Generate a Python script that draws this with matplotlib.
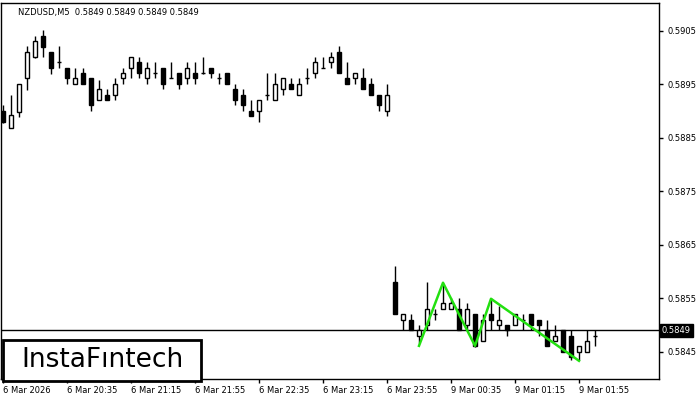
#!/usr/bin/env python3
# -*- coding: utf-8 -*-

import matplotlib
matplotlib.use("Agg")
import matplotlib.pyplot as plt
from matplotlib.patches import Rectangle
from matplotlib.transforms import blended_transform_factory


# NZDUSD M5, bars from 6 Mar 19:55 onwards (weekend gap after index 48)
opens = [
    0.58900, 0.58869, 0.58898, 0.58962, 0.59001, 0.59041, 0.59011, 0.58992, 0.58981, 0.58951,
    0.58971, 0.58962, 0.58921, 0.58930, 0.58930, 0.58962, 0.58981, 0.58992, 0.58962, 0.58971,
    0.58981, 0.58962, 0.58971, 0.58962, 0.58971, 0.58971, 0.58981, 0.58962, 0.58971, 0.58941,
    0.58930, 0.58900, 0.58900, 0.58930, 0.58921, 0.58941, 0.58951, 0.58930, 0.58962, 0.58971,
    0.58981, 0.58992, 0.59011, 0.58962, 0.58962, 0.58962, 0.58951, 0.58930, 0.58900,
    0.58580, 0.58509, 0.58509, 0.58479, 0.58500, 0.58521, 0.58530, 0.58530, 0.58530, 0.58500,
    0.58521, 0.58470, 0.58521, 0.58500, 0.58500, 0.58500, 0.58509, 0.58521, 0.58509, 0.58491,
    0.58470, 0.58491, 0.58479, 0.58449, 0.58449, 0.58479,
]
highs = [
    0.58912, 0.58930, 0.58951, 0.59022, 0.59041, 0.59052, 0.59011, 0.59022, 0.58981, 0.58981,
    0.58981, 0.58962, 0.58958, 0.58941, 0.58962, 0.58981, 0.59001, 0.59001, 0.58992, 0.58992,
    0.58981, 0.58992, 0.58971, 0.58992, 0.58992, 0.59001, 0.58981, 0.58971, 0.58971, 0.58951,
    0.58941, 0.58921, 0.58921, 0.58971, 0.58971, 0.58962, 0.58962, 0.58962, 0.58981, 0.59001,
    0.59001, 0.59011, 0.59022, 0.58992, 0.58971, 0.58981, 0.58962, 0.58930, 0.58951,
    0.58610, 0.58521, 0.58521, 0.58500, 0.58580, 0.58530, 0.58579, 0.58550, 0.58550, 0.58541,
    0.58521, 0.58521, 0.58550, 0.58535, 0.58500, 0.58521, 0.58521, 0.58521, 0.58509, 0.58509,
    0.58500, 0.58491, 0.58491, 0.58461, 0.58491, 0.58491,
]
lows = [
    0.58878, 0.58868, 0.58889, 0.58940, 0.58999, 0.59001, 0.58970, 0.58981, 0.58951, 0.58951,
    0.58951, 0.58900, 0.58921, 0.58921, 0.58921, 0.58951, 0.58962, 0.58962, 0.58951, 0.58962,
    0.58941, 0.58962, 0.58941, 0.58951, 0.58951, 0.58970, 0.58962, 0.58951, 0.58951, 0.58912,
    0.58900, 0.58891, 0.58880, 0.58921, 0.58921, 0.58930, 0.58941, 0.58930, 0.58951, 0.58962,
    0.58980, 0.58981, 0.58971, 0.58951, 0.58951, 0.58941, 0.58930, 0.58900, 0.58891,
    0.58521, 0.58491, 0.58491, 0.58466, 0.58491, 0.58509, 0.58530, 0.58530, 0.58491, 0.58491,
    0.58459, 0.58470, 0.58491, 0.58491, 0.58479, 0.58500, 0.58491, 0.58491, 0.58479, 0.58461,
    0.58470, 0.58449, 0.58434, 0.58434, 0.58449, 0.58461,
]
closes = [
    0.58880, 0.58892, 0.58951, 0.59011, 0.59031, 0.59020, 0.58981, 0.58991, 0.58962, 0.58962,
    0.58951, 0.58912, 0.58941, 0.58921, 0.58951, 0.58971, 0.59001, 0.58971, 0.58981, 0.58970,
    0.58951, 0.58961, 0.58951, 0.58981, 0.58962, 0.58970, 0.58971, 0.58961, 0.58951, 0.58921,
    0.58912, 0.58891, 0.58921, 0.58931, 0.58951, 0.58962, 0.58941, 0.58951, 0.58961, 0.58992,
    0.58980, 0.59001, 0.58971, 0.58951, 0.58971, 0.58941, 0.58930, 0.58912, 0.58930,
    0.58521, 0.58521, 0.58491, 0.58491, 0.58530, 0.58520, 0.58541, 0.58541, 0.58491, 0.58530,
    0.58461, 0.58509, 0.58509, 0.58509, 0.58491, 0.58521, 0.58510, 0.58500, 0.58500, 0.58461,
    0.58479, 0.58449, 0.58440, 0.58461, 0.58470, 0.58480,
]

# triple bottom pattern outline (bar index, price)
pattern_idx = [52, 55, 59, 61, 72]
pattern_px = [0.58461, 0.58579, 0.58461, 0.58549, 0.58433]

last_price = 0.5849
price_ticks = [0.5845, 0.5855, 0.5865, 0.5875, 0.5885, 0.5895, 0.5905]
time_ticks = [0, 8, 16, 24, 32, 40, 48, 56, 64, 72]
time_labels = ["6 Mar 2026", "6 Mar 20:35", "6 Mar 21:15", "6 Mar 21:55", "6 Mar 22:35",
               "6 Mar 23:15", "6 Mar 23:55", "9 Mar 00:35", "9 Mar 01:15", "9 Mar 01:55"]

FS = 6

fig = plt.figure(figsize=(7, 4), dpi=100)
ax = fig.add_axes([1 / 700, 21 / 400, 658 / 700, 376 / 400])

x = list(range(len(opens)))
ax.vlines(x, lows, highs, color="black", lw=1, zorder=2)
for i in x:
    o, c = opens[i], closes[i]
    if abs(c - o) < 0.00003:
        ax.hlines((o + c) / 2, i - 0.3, i + 0.3, color="black", lw=1, zorder=3)
        continue
    fill = "white" if c > o else "black"
    ax.bar(i, abs(c - o), bottom=min(o, c), width=0.6, color=fill,
           edgecolor="black", linewidth=1, zorder=3)

ax.axhline(last_price, color="black", lw=1, zorder=1)
ax.plot(pattern_idx, pattern_px, color="#22e010", lw=1.8, zorder=4)

ax.set_xlim(-0.25, 82)
ax.set_ylim(0.58399, 0.59102)

ax.yaxis.tick_right()
ax.set_yticks(price_ticks)
ax.set_yticklabels([f"{p:.4f}" for p in price_ticks], fontsize=FS)
ax.tick_params(axis="y", length=3, width=1, pad=3)
ax.set_xticks(time_ticks)
ax.set_xticklabels(time_labels, fontsize=FS, ha="left")
ax.tick_params(axis="x", length=3, width=1, pad=2)
for s in ax.spines.values():
    s.set_linewidth(1)

# current price marker on the price scale
tr = blended_transform_factory(ax.transAxes, ax.transData)
ax.text(1.004, last_price, f"{last_price:.4f}", transform=tr, fontsize=FS,
        color="white", va="center", ha="left",
        bbox=dict(boxstyle="square,pad=0.25", fc="black", ec="black"))

fig.text(18 / 700, 1 - 12 / 400, "NZDUSD,M5  0.5849 0.5849 0.5849 0.5849",
         fontsize=FS, va="center", ha="left", color="black")

# logo box
fig.patches.append(Rectangle((3 / 700, 1 - 381 / 400), 198 / 700, 41 / 400,
                             transform=fig.transFigure, fc="white", ec="black",
                             lw=2, zorder=5))
fig.text(102 / 700, 1 - 360 / 400, "InstaFıntech", fontsize=19, ha="center",
         va="center", color="black", zorder=6)

fig.savefig("out.png", dpi=100)
